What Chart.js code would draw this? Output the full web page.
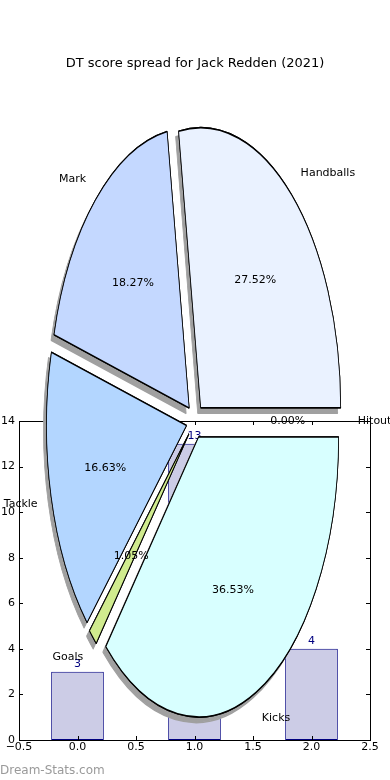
<!DOCTYPE html>
<html>
<head>
<meta charset="utf-8">
<script src="https://cdn.jsdelivr.net/npm/chart.js@4.4.1/dist/chart.umd.min.js"></script>
<style>
    body { margin: 0; background: #fff; }
    .layer { position: absolute; left: 0; top: 0; width: 390px; height: 780px; }
    #watermark { position: absolute; left: 0; top: 763px; font: 12px "DejaVu Sans"; color: #9a9a9a; }
</style>
</head>
<body>
<div class="layer"><canvas id="barChart"></canvas></div>
<div class="layer"><canvas id="pieChart"></canvas></div>
<div id="watermark">Dream-Stats.com</div>
<script>
const categories = ['Handballs', 'Mark', 'Tackle', 'Goals', 'Kicks', 'Hitout']
const shares = [27.52, 18.27, 16.63, 1.05, 36.53, 0.00]
const wedgeColors = ['#eaf2ff', '#c4d8ff', '#b3d6ff', '#d0eb8e', '#d8ffff', '#ffffff']

const barPositions = [0, 1, 2]
const barValues = [3, 13, 4]
const xTicks = [-0.5, 0, 0.5, 1, 1.5, 2, 2.5]
const yTicks = [0, 2, 4, 6, 8, 10, 12, 14]

const font = '"DejaVu Sans"'
// pie is drawn as a circle, then squashed into the tall ellipse of the original
const stretch = 2.0
const explode = 0.0625

// where a point at distance d (in radii) along the wedge middle ends up on screen
function wedgePoint(a, d) {
    const mid = (a.startAngle + a.endAngle) / 2
    const r = (explode + d) * a.outerRadius
    return [a.x + r * Math.cos(mid), a.y - stretch * r * Math.sin(mid)]
}

const ellipsePie = {
    id: 'ellipsePie',
    beforeDatasetsDraw(chart) {
        const ctx = chart.ctx
        const arcs = chart.getDatasetMeta(0).data
        const paint = withShadow => arcs.forEach(a => {
            const [ox, oy] = wedgePoint(a, 0)
            ctx.save()
            if (withShadow) {
                ctx.shadowColor = '#a0a0a0'
                ctx.shadowOffsetX = -3
                ctx.shadowOffsetY = 5.5
            }
            ctx.translate(ox, oy)
            ctx.scale(1, -stretch)
            ctx.translate(-a.x, -a.y)
            a.draw(ctx)
            ctx.restore()
        })
        // shadow pass first, the real wedges get painted over it
        paint(true)
        paint(false)
        return false
    },
    afterDraw(chart) {
        const ctx = chart.ctx
        const arcs = chart.getDatasetMeta(0).data
        const total = shares.reduce((a, b) => a + b, 0)
        ctx.save()
        ctx.font = '11px ' + font
        ctx.fillStyle = '#000'
        ctx.textBaseline = 'middle'
        arcs.forEach((a, i) => {
            const [lx, ly] = wedgePoint(a, 1.1)
            ctx.textAlign = lx > a.x ? 'left' : 'right'
            ctx.fillText(categories[i], lx, ly)
            const [px, py] = wedgePoint(a, 0.6)
            ctx.textAlign = 'center'
            ctx.fillText((shares[i] / total * 100).toFixed(2) + '%', px, py)
        })
        ctx.restore()
    }
}

const boxAndTicks = {
    id: 'boxAndTicks',
    afterDatasetsDraw(chart) {
        const ctx = chart.ctx
        const {left, right, top, bottom} = chart.chartArea
        const xs = chart.scales.x, ys = chart.scales.y
        ctx.save()
        // value labels over the bars
        ctx.font = '11px ' + font
        ctx.fillStyle = '#000080'
        ctx.textAlign = 'center'
        ctx.textBaseline = 'bottom'
        chart.getDatasetMeta(0).data.forEach((bar, i) => {
            ctx.fillText(String(barValues[i]), bar.x, bar.y - 2)
        })
        // matplotlib style frame with inward ticks
        ctx.strokeStyle = '#000'
        ctx.lineWidth = 1
        ctx.strokeRect(Math.round(left) + 0.5, Math.round(top) + 0.5, Math.round(right - left), Math.round(bottom - top))
        ctx.beginPath()
        xTicks.forEach(v => {
            const x = Math.round(xs.getPixelForValue(v)) + 0.5
            ctx.moveTo(x, bottom); ctx.lineTo(x, bottom - 4)
            ctx.moveTo(x, top); ctx.lineTo(x, top + 4)
        })
        yTicks.forEach(v => {
            const y = Math.round(ys.getPixelForValue(v)) + 0.5
            ctx.moveTo(left, y); ctx.lineTo(left + 4, y)
            ctx.moveTo(right, y); ctx.lineTo(right - 4, y)
        })
        ctx.stroke()
        ctx.restore()
    }
}

new Chart(document.getElementById('barChart'), {
    type: 'bar',
    data: {
        datasets: [{
            data: barPositions.map((x, i) => ({x: x, y: barValues[i]})),
            backgroundColor: '#ccccE6',
            borderColor: '#000080',
            borderWidth: 1,
            borderSkipped: false,
            barPercentage: 0.9,
            categoryPercentage: 1
        }]
    },
    options: {
        responsive: true,
        maintainAspectRatio: false,
        animation: false,
        events: [],
        layout: { padding: { left: 0, right: 20, top: 421, bottom: 0 } },
        plugins: {
            legend: { display: false },
            tooltip: { enabled: false }
        },
        scales: {
            x: {
                type: 'linear',
                offset: false,
                min: -0.5,
                max: 2.5,
                afterBuildTicks: scale => { scale.ticks = xTicks.map(v => ({value: v})) },
                afterFit: scale => { scale.height = 40 },
                grid: { display: false, drawTicks: false },
                border: { display: false },
                ticks: {
                    autoSkip: false,
                    maxRotation: 0,
                    padding: 1,
                    color: '#000',
                    font: { family: font, size: 11 },
                    callback: v => (v < 0 ? '\u2212' : '') + Math.abs(v).toFixed(1)
                }
            },
            y: {
                min: 0,
                max: 14,
                afterBuildTicks: scale => { scale.ticks = yTicks.map(v => ({value: v})) },
                afterFit: scale => { scale.width = 19 },
                grid: { display: false, drawTicks: false },
                border: { display: false },
                ticks: {
                    padding: 4,
                    color: '#000',
                    font: { family: font, size: 11 }
                }
            }
        }
    },
    plugins: [boxAndTicks]
})

new Chart(document.getElementById('pieChart'), {
    type: 'pie',
    data: {
        labels: categories,
        datasets: [{
            data: shares,
            backgroundColor: wedgeColors,
            borderColor: '#000',
            borderWidth: 0.8,
            radius: 140,
            rotation: 90
        }]
    },
    options: {
        responsive: true,
        maintainAspectRatio: false,
        animation: false,
        events: [],
        layout: { padding: { left: 0, right: 0, top: 0, bottom: 9.1 } },
        plugins: {
            legend: { display: false },
            tooltip: { enabled: false },
            title: {
                display: true,
                text: 'DT score spread for Jack Redden (2021)',
                color: '#000',
                font: { family: font, size: 13, weight: 'normal' },
                padding: { top: 55.5, bottom: 0 }
            }
        }
    },
    plugins: [ellipsePie]
})
</script>
</body>
</html>
